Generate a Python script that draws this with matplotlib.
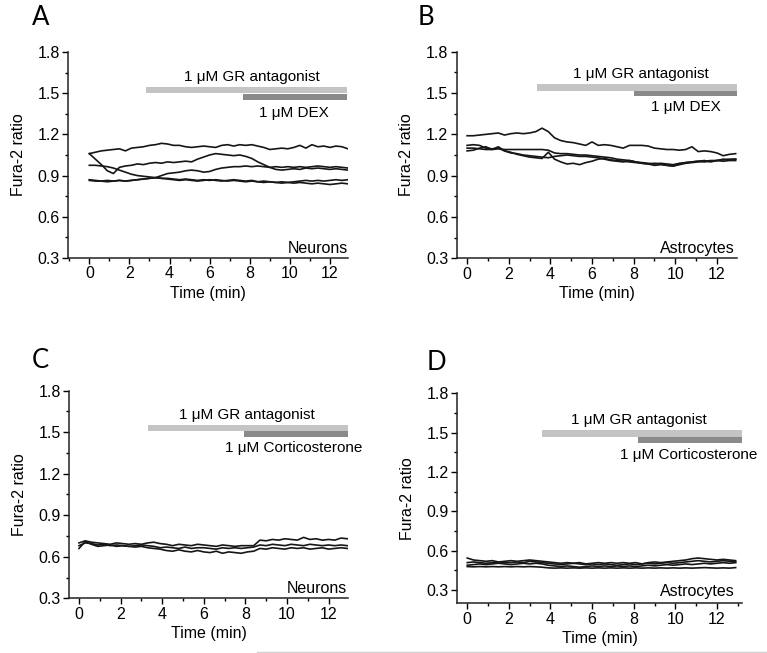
import numpy as np
import matplotlib.pyplot as plt
from matplotlib.lines import Line2D
from matplotlib.ticker import MultipleLocator

plt.rcParams['font.family'] = ['Liberation Sans', 'DejaVu Sans']
plt.rcParams['font.size'] = 11.5

# sample times (min), same grid for every trace
time = np.linspace(0, 12.9, 44)

# --- panel A: neurons, GR antagonist + DEX ---
a1 = [1.06, 1.07, 1.08, 1.085, 1.09, 1.095, 1.08, 1.10, 1.105, 1.11,
      1.12, 1.125, 1.135, 1.13, 1.12, 1.12, 1.11, 1.105, 1.11, 1.115,
      1.11, 1.105, 1.12, 1.125, 1.115, 1.125, 1.12, 1.125, 1.115, 1.105,
      1.09, 1.095, 1.10, 1.095, 1.105, 1.12, 1.10, 1.125, 1.11, 1.115,
      1.105, 1.115, 1.11, 1.095]
a2 = [1.06, 1.02, 0.98, 0.935, 0.915, 0.96, 0.97, 0.975, 0.985, 0.98,
      0.99, 0.995, 0.99, 1.0, 0.995, 1.0, 1.005, 1.0, 1.02, 1.035,
      1.05, 1.06, 1.055, 1.05, 1.045, 1.05, 1.04, 1.025, 1.0, 0.98,
      0.96, 0.945, 0.94, 0.945, 0.95, 0.945, 0.955, 0.95, 0.955, 0.95,
      0.945, 0.95, 0.945, 0.94]
a3 = [0.975, 0.975, 0.97, 0.965, 0.955, 0.94, 0.925, 0.91, 0.90, 0.895,
      0.89, 0.885, 0.88, 0.88, 0.875, 0.87, 0.875, 0.87, 0.865, 0.87,
      0.865, 0.87, 0.865, 0.86, 0.865, 0.86, 0.855, 0.86, 0.855, 0.85,
      0.855, 0.85, 0.845, 0.85, 0.845, 0.85, 0.845, 0.84, 0.845, 0.84,
      0.835, 0.84, 0.845, 0.84]
a4 = [0.87, 0.865, 0.86, 0.865, 0.86, 0.865, 0.86, 0.865, 0.87, 0.875,
      0.88, 0.885, 0.90, 0.915, 0.92, 0.925, 0.935, 0.94, 0.935, 0.925,
      0.93, 0.945, 0.955, 0.96, 0.965, 0.965, 0.97, 0.965, 0.97, 0.965,
      0.96, 0.965, 0.96, 0.965, 0.96, 0.965, 0.96, 0.965, 0.97, 0.965,
      0.96, 0.965, 0.96, 0.955]
a5 = [0.865, 0.86, 0.86, 0.855, 0.86, 0.865, 0.86, 0.865, 0.87, 0.875,
      0.88, 0.885, 0.88, 0.875, 0.87, 0.865, 0.87, 0.865, 0.86, 0.865,
      0.87, 0.865, 0.86, 0.865, 0.87, 0.865, 0.86, 0.865, 0.855, 0.86,
      0.855, 0.85, 0.855, 0.85, 0.855, 0.86, 0.865, 0.86, 0.865, 0.86,
      0.865, 0.87, 0.865, 0.87]

# --- panel B: astrocytes, GR antagonist + DEX ---
b1 = [1.19, 1.19, 1.195, 1.20, 1.205, 1.21, 1.195, 1.205, 1.21, 1.205,
      1.21, 1.22, 1.245, 1.22, 1.175, 1.155, 1.145, 1.14, 1.13, 1.12,
      1.145, 1.12, 1.125, 1.12, 1.11, 1.10, 1.12, 1.12, 1.12, 1.115,
      1.10, 1.095, 1.09, 1.09, 1.085, 1.09, 1.11, 1.075, 1.08, 1.075,
      1.065, 1.045, 1.055, 1.06]
b2 = [1.12, 1.125, 1.12, 1.10, 1.095, 1.10, 1.08, 1.07, 1.055, 1.045,
      1.035, 1.03, 1.025, 1.07, 1.02, 1.00, 0.985, 0.99, 0.98, 0.995,
      1.005, 1.02, 1.025, 1.015, 1.01, 1.005, 1.00, 0.995, 0.99, 0.985,
      0.99, 0.985, 0.975, 0.97, 0.985, 0.995, 1.0, 1.005, 1.01, 1.0,
      1.01, 1.015, 1.02, 1.02]
b3 = [1.10, 1.10, 1.095, 1.09, 1.09, 1.095, 1.09, 1.09, 1.09, 1.09,
      1.09, 1.09, 1.09, 1.085, 1.065, 1.06, 1.06, 1.055, 1.05, 1.05,
      1.045, 1.04, 1.035, 1.03, 1.02, 1.015, 1.01, 1.0, 0.995, 0.99,
      0.985, 0.99, 0.985, 0.98, 0.99, 0.995, 1.0, 1.005, 1.0, 1.005,
      1.01, 1.005, 1.01, 1.01]
b4 = [1.08, 1.085, 1.10, 1.11, 1.09, 1.11, 1.08, 1.065, 1.06, 1.05,
      1.045, 1.04, 1.035, 1.03, 1.04, 1.045, 1.05, 1.045, 1.04, 1.04,
      1.035, 1.03, 1.02, 1.01, 1.005, 1.0, 1.01, 1.0, 0.99, 0.985,
      0.975, 0.98, 0.975, 0.97, 0.98, 0.99, 0.995, 1.0, 1.005, 1.01,
      1.01, 1.02, 1.015, 1.02]

# --- panel C: neurons, GR antagonist + corticosterone ---
c1 = [0.70, 0.715, 0.705, 0.70, 0.695, 0.69, 0.70, 0.695, 0.69, 0.695,
      0.69, 0.70, 0.705, 0.695, 0.69, 0.68, 0.69, 0.685, 0.68, 0.69,
      0.685, 0.68, 0.675, 0.685, 0.68, 0.675, 0.68, 0.68, 0.68, 0.72,
      0.715, 0.725, 0.72, 0.73, 0.725, 0.72, 0.74, 0.725, 0.73, 0.72,
      0.725, 0.72, 0.735, 0.73]
c2 = [0.68, 0.70, 0.695, 0.685, 0.69, 0.68, 0.685, 0.68, 0.675, 0.68,
      0.685, 0.68, 0.675, 0.665, 0.67, 0.665, 0.66, 0.67, 0.66, 0.665,
      0.665, 0.66, 0.655, 0.665, 0.66, 0.665, 0.66, 0.665, 0.67, 0.685,
      0.68, 0.69, 0.685, 0.68, 0.69, 0.685, 0.68, 0.69, 0.685, 0.68,
      0.685, 0.68, 0.685, 0.68]
c3 = [0.66, 0.71, 0.69, 0.675, 0.68, 0.685, 0.675, 0.68, 0.675, 0.67,
      0.675, 0.665, 0.66, 0.655, 0.645, 0.64, 0.65, 0.64, 0.635, 0.645,
      0.635, 0.63, 0.64, 0.625, 0.635, 0.63, 0.625, 0.635, 0.64, 0.66,
      0.655, 0.665, 0.66, 0.655, 0.665, 0.66, 0.665, 0.655, 0.66, 0.665,
      0.655, 0.66, 0.665, 0.66]

# --- panel D: astrocytes, GR antagonist + corticosterone ---
d1 = [0.545, 0.53, 0.525, 0.52, 0.525, 0.515, 0.52, 0.525, 0.52, 0.525,
      0.53, 0.525, 0.52, 0.515, 0.51, 0.505, 0.51, 0.505, 0.51, 0.50,
      0.505, 0.51, 0.505, 0.51, 0.505, 0.51, 0.505, 0.51, 0.50, 0.51,
      0.515, 0.51, 0.515, 0.52, 0.525, 0.53, 0.54, 0.545, 0.54, 0.535,
      0.53, 0.535, 0.53, 0.525]
d2 = [0.51, 0.515, 0.51, 0.505, 0.51, 0.515, 0.51, 0.51, 0.515, 0.51,
      0.52, 0.515, 0.51, 0.505, 0.50, 0.495, 0.50, 0.505, 0.50, 0.495,
      0.50, 0.495, 0.50, 0.495, 0.49, 0.495, 0.50, 0.495, 0.50, 0.505,
      0.50, 0.505, 0.51, 0.505, 0.51, 0.515, 0.52, 0.525, 0.52, 0.515,
      0.52, 0.525, 0.52, 0.515]
d3 = [0.49, 0.495, 0.50, 0.495, 0.50, 0.505, 0.50, 0.495, 0.50, 0.505,
      0.50, 0.505, 0.50, 0.49, 0.485, 0.48, 0.485, 0.48, 0.475, 0.48,
      0.485, 0.48, 0.485, 0.48, 0.485, 0.48, 0.485, 0.48, 0.485, 0.49,
      0.485, 0.49, 0.495, 0.49, 0.495, 0.50, 0.495, 0.50, 0.505, 0.50,
      0.505, 0.51, 0.505, 0.51]
d4 = [0.48, 0.478, 0.48, 0.478, 0.48, 0.478, 0.48, 0.478, 0.48, 0.478,
      0.48, 0.478, 0.475, 0.47, 0.468, 0.47, 0.468, 0.47, 0.468, 0.47,
      0.468, 0.47, 0.468, 0.47, 0.468, 0.47, 0.468, 0.47, 0.468, 0.47,
      0.468, 0.47, 0.468, 0.47, 0.468, 0.47, 0.468, 0.47, 0.472, 0.47,
      0.468, 0.47, 0.468, 0.472]

panel_letters = ['A', 'B', 'C', 'D']
cell_types = ['Neurons', 'Astrocytes', 'Neurons', 'Astrocytes']
drug_names = ['1 \u03bcM DEX', '1 \u03bcM DEX',
              '1 \u03bcM Corticosterone', '1 \u03bcM Corticosterone']
antagonist_name = '1 \u03bcM GR antagonist'

# application bars: start/end time (min) and ratio range (low, high)
gr_start = [2.83, 3.37, 3.33, 3.58]
drug_start = [7.67, 8.0, 7.95, 8.19]
bar_end = [12.87, 12.95, 12.92, 13.19]
gr_band = [(1.50, 1.543), (1.518, 1.565), (1.508, 1.552), (1.469, 1.52)]
drug_band = [(1.45, 1.494), (1.478, 1.518), (1.467, 1.508), (1.418, 1.469)]

traces = [[a1, a2, a3, a4, a5], [b1, b2, b3, b4], [c1, c2, c3], [d1, d2, d3, d4]]

# layout (figure fractions) and axis ranges per panel
rects = [[0.089, 0.6049, 0.3647, 0.3155],
         [0.5954, 0.6044, 0.3651, 0.3164],
         [0.090, 0.0838, 0.3641, 0.3180],
         [0.5962, 0.0761, 0.3708, 0.3216]]
xlims = [(-1.05, 12.9), (-0.5, 12.95), (-0.48, 12.95), (-0.48, 13.19)]
ylims = [(0.3, 1.8), (0.3, 1.8), (0.3, 1.8), (0.2, 1.8)]
text_pos = [  # GR text, drug text, cell-type label
    [(8.1, 1.618), (10.2, 1.356), (12.9, 0.372)],
    [(8.34, 1.638), (10.5, 1.402), (12.87, 0.371)],
    [(8.06, 1.624), (10.33, 1.384), (12.87, 0.369)],
    [(8.26, 1.596), (10.64, 1.329), (12.87, 0.289)],
]
letter_pos = [(32, 5), (418, 5), (32, 348), (427, 350)]

fig = plt.figure(figsize=(7.67, 6.53), dpi=100)

for i in range(4):
    ax = fig.add_axes(rects[i])
    for tr in traces[i]:
        ax.plot(time, tr, color='#161616', lw=1.2)

    lo, hi = gr_band[i]
    ax.barh((lo + hi) / 2, bar_end[i] - gr_start[i], left=gr_start[i],
            height=hi - lo, color='#c4c4c4', clip_on=False)
    lo, hi = drug_band[i]
    ax.barh((lo + hi) / 2, bar_end[i] - drug_start[i], left=drug_start[i],
            height=hi - lo, color='#8a8a8a', clip_on=False)

    (gx, gy), (dx, dy), (cx, cy) = text_pos[i]
    ax.text(gx, gy, antagonist_name, ha='center', va='center', fontsize=11)
    ax.text(dx, dy, drug_names[i], ha='center', va='center', fontsize=11)
    ax.text(cx, cy, cell_types[i], ha='right', va='center', fontsize=11.5)

    ax.set_xlim(*xlims[i])
    ax.set_ylim(*ylims[i])
    ax.set_xticks([0, 2, 4, 6, 8, 10, 12])
    ax.set_yticks([0.3, 0.6, 0.9, 1.2, 1.5, 1.8])
    ax.xaxis.set_minor_locator(MultipleLocator(1))
    ax.yaxis.set_minor_locator(MultipleLocator(0.15))
    ax.tick_params(which='major', direction='out', length=4, width=1,
                   labelsize=11.5, pad=2)
    ax.tick_params(which='minor', direction='out', length=2.5, width=1)
    for s in ['top', 'right']:
        ax.spines[s].set_visible(False)
    for s in ['left', 'bottom']:
        ax.spines[s].set_linewidth(1.1)
        ax.spines[s].set_color('#222222')
    ax.set_xlabel('Time (min)', fontsize=11.5, labelpad=3)
    ax.set_ylabel('Fura-2 ratio', fontsize=11.5, labelpad=8.5)

    lx, ly = letter_pos[i]
    fig.text(lx / 767, 1 - ly / 653, panel_letters[i], family=['Lato', 'DejaVu Sans'],
             fontsize=18.5, ha='left', va='top')

# faint page rule along the bottom edge
fig.add_artist(Line2D([257 / 767, 1], [1.2 / 653, 1.2 / 653], color='#d0d0d0', lw=1))

fig.savefig('out.png', dpi=100)
